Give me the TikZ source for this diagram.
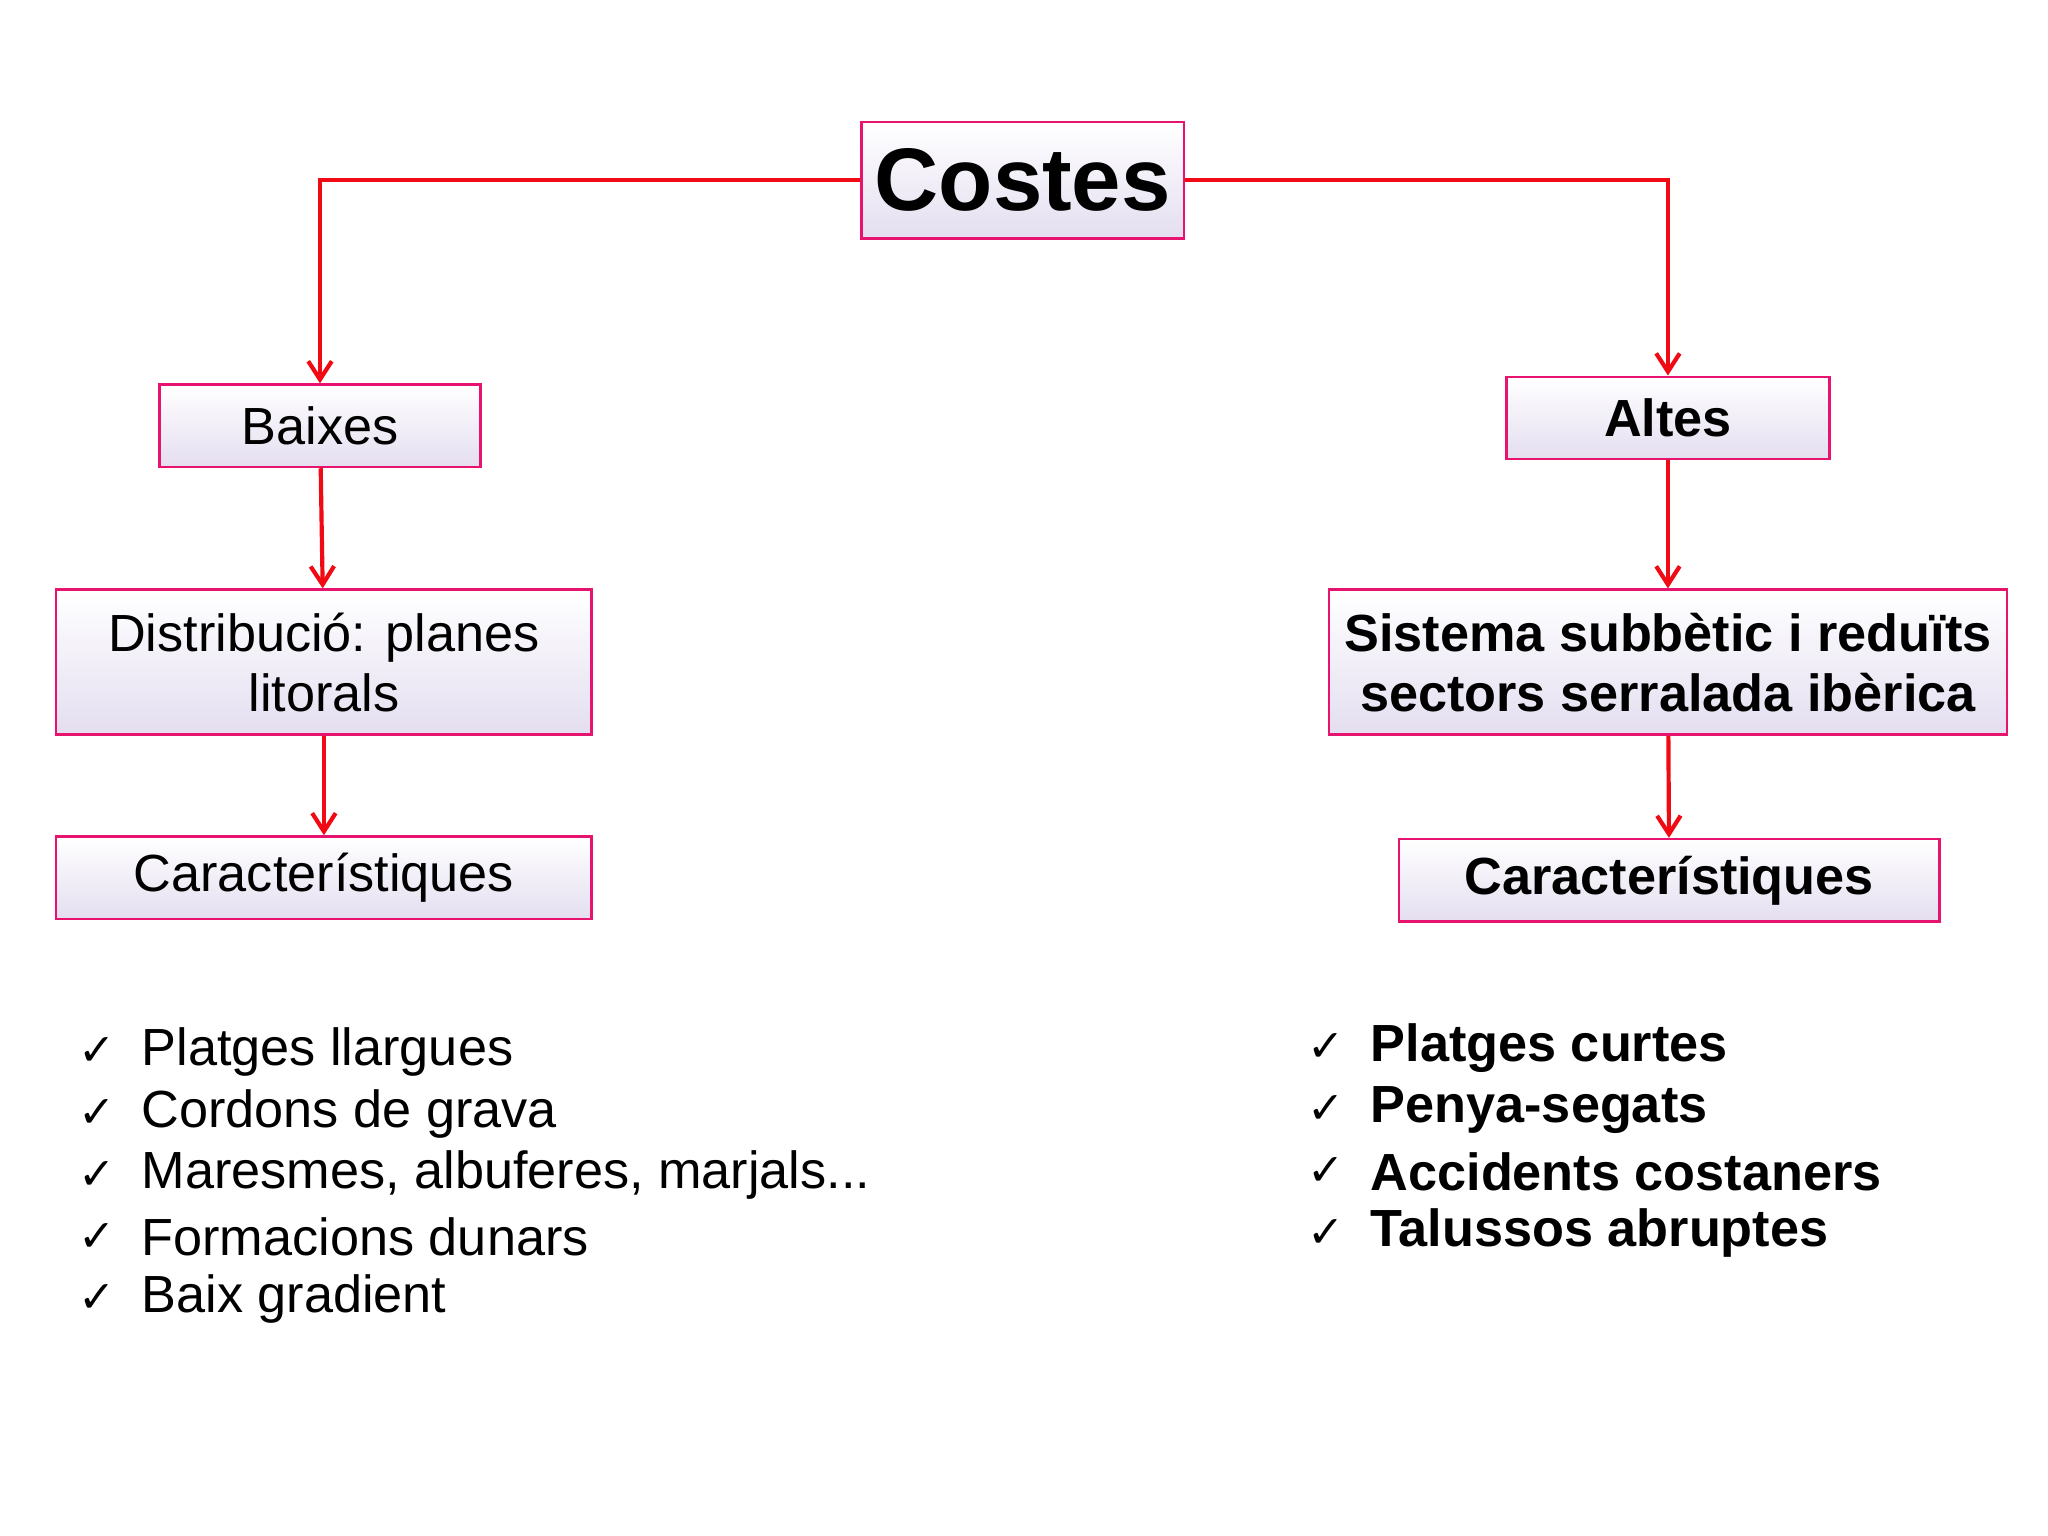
\documentclass[tikz,border=0pt]{standalone}
\usepackage{fontspec}
\setmainfont{Liberation Sans}
\newfontfamily\symf{DejaVu Sans}
\usetikzlibrary{arrows.meta}
\begin{document}
\begin{tikzpicture}[x=0.5pt,y=-0.5pt,
  bx/.style={draw={rgb,255:red,230;green,20;blue,110},line width=1pt,top color=white,bottom color={rgb,255:red,228;green,222;blue,240},inner sep=0pt,align=center,font=\fontsize{20}{23}\selectfont},
  conn/.style={draw={rgb,255:red,240;green,10;blue,20},line width=1.6pt,-{Straight Barb[length=7pt,width=9pt,line width=1.6pt]}},
  li/.style={anchor=west,font=\fontsize{20}{23}\selectfont,inner sep=0pt},
  ck/.style={anchor=west,font=\symf\fontsize{17}{20}\selectfont,inner sep=0pt}]
\useasboundingbox (0,0) rectangle (1568,1176);
\node[bx,minimum width=123.5pt,minimum height=44.5pt,font=\bfseries\fontsize{34}{38}\selectfont] (c) at (783,138) {Costes};
\node[bx,minimum width=123pt,minimum height=31.5pt] (b) at (245,326) {Baixes};
\node[bx,minimum width=205pt,minimum height=55.5pt] (d) at (248,507) {Distribució: planes\\litorals};
\node[bx,minimum width=205pt,minimum height=31.5pt] (cl) at (248,672) {Característiques};
\node[bx,minimum width=123.5pt,minimum height=31.5pt,font=\bfseries\fontsize{20}{23}\selectfont] (a) at (1277,320) {Altes};
\node[bx,minimum width=259.5pt,minimum height=55.5pt,font=\bfseries\fontsize{20}{23}\selectfont] (s) at (1277,507) {Sistema subbètic i reduïts\\sectors serralada ibèrica};
\node[bx,minimum width=207pt,minimum height=31.5pt,font=\bfseries\fontsize{20}{23}\selectfont] (cr) at (1278,674) {Característiques};
\draw[conn] (c.west) -| (b.north);
\draw[conn] (c.east) -| (a.north);
\draw[conn] (b) -- (d);
\draw[conn] (d) -- (cl);
\draw[conn] (a) -- (s);
\draw[conn] (s) -- (cr);
\foreach \t [count=\i] in {Platges llargues,Cordons de grava,{Maresmes, albuferes, marjals.\kern0pt.\kern0pt.},Formacions dunars,Baix gradient}{
  \node[ck] (lk\i) at (60,{758+47.3*\i}) {✓};
  \node[li] (lt\i) at (108,{758+47.3*\i}) {\t};}
\foreach \t [count=\i] in {Platges curtes,Penya-segats,Accidents costaners,Talussos abruptes}{
  \node[ck] (rk\i) at (1001,{755+47.3*\i}) {✓};
  \node[li,font=\bfseries\fontsize{20}{23}\selectfont] (rt\i) at (1049,{755+47.3*\i}) {\t};}
\end{tikzpicture}
\end{document}
